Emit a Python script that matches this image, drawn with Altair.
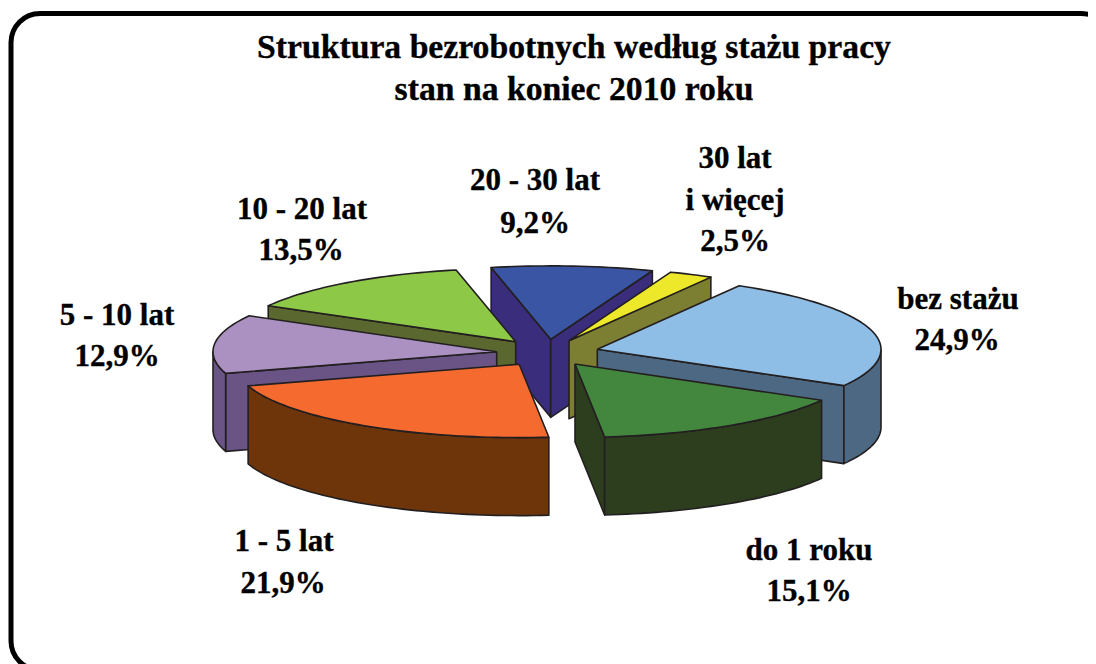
import math
import altair as alt
import pandas as pd

# ---- values ----
categories = ["bez stażu", "do 1 roku", "1 - 5 lat", "5 - 10 lat", "10 - 20 lat", "20 - 30 lat", "30 lat i więcej"]
shares = [24.9, 15.1, 21.9, 12.9, 13.5, 9.2, 2.5]

title_lines = ["Struktura bezrobotnych według stażu pracy", "stan na koniec 2010 roku"]
label_lines = [
    ["bez stażu", "24,9%"],
    ["do 1 roku", "15,1%"],
    ["1 - 5 lat", "21,9%"],
    ["5 - 10 lat", "12,9%"],
    ["10 - 20 lat", "13,5%"],
    ["20 - 30 lat", "9,2%"],
    ["30 lat", "i więcej", "2,5%"],
]

# ---- styling / projection (not data) ----
W, H = 1080, 656
A, B, DEPTH = 283.7, 73.4, 78
START = 30.0
apex = [(597.3, 349.3), (575, 364), (519.2, 364.2), (496.7, 351.7), (515.7, 341.7), (550.7, 339.3), (569, 340.7)]
top_col = ["#8ebde6", "#43873f", "#f46a2f", "#ab91c1", "#8dc847", "#3a55a4", "#eee82a"]
side_col = ["#4d6882", "#2d3e1f", "#6e350b", "#695485", "#5a672e", "#3a2d7c", "#7c7f32"]
draw_order = [5, 6, 4, 3, 0, 2, 1]
label_pos = [
    [(958, 309), (957, 350)],
    [(809, 560), (809, 601)],
    [(284, 551), (283, 593)],
    [(117, 325), (117, 366)],
    [(302, 219), (301, 260)],
    [(535, 190), (535, 233)],
    [(735, 168), (735, 210), (735, 251)],
]
title_pos = [(574, 58), (574, 100)]
LABEL_SIZE = 31
TITLE_SIZE = 33.7


def pt(i, deg, drop=0.0):
    r = math.radians(deg)
    cx, cy = apex[i]
    return cx + A * math.sin(r), cy - B * math.cos(r) + drop


def arc(i, a0, a1, drop=0.0):
    n = max(2, int(abs(a1 - a0) / 1.5) + 1)
    return [pt(i, a0 + (a1 - a0) * k / (n - 1), drop) for k in range(n)]


cum = [START]
for s in shares:
    cum.append(cum[-1] + s * 3.6)

rows = []
poly_id = 0


def add(points, fill):
    global poly_id
    closed = list(points) + [points[0]]
    for seq, (x, y) in enumerate(closed):
        rows.append({"poly": f"p{poly_id:02d}", "seq": seq, "x": x - 8, "y": y - 8, "fill": fill})
    poly_id += 1


for i in draw_order:
    a0, a1 = cum[i], cum[i + 1]
    ax, ay = apex[i]
    # visible cut faces
    if math.sin(math.radians(a0)) < 0:
        p = pt(i, a0)
        add([(ax, ay), p, (p[0], p[1] + DEPTH), (ax, ay + DEPTH)], side_col[i])
    if math.sin(math.radians(a1)) > 0:
        p = pt(i, a1)
        add([(ax, ay), p, (p[0], p[1] + DEPTH), (ax, ay + DEPTH)], side_col[i])
    # visible part of the outer wall (front half of the ellipse)
    lo, hi = max(a0, 90), min(a1, 270)
    if hi > lo:
        add(arc(i, lo, hi) + arc(i, hi, lo, DEPTH), side_col[i])
    # top face
    add([(ax, ay)] + arc(i, a0, a1), top_col[i])

df = pd.DataFrame(rows)

text_rows = []
for lines, pos in zip(label_lines, label_pos):
    for t, (x, y) in zip(lines, pos):
        text_rows.append({"t": t, "x": x - 8, "y": y - 8, "s": LABEL_SIZE})
for t, (x, y) in zip(title_lines, title_pos):
    text_rows.append({"t": t, "x": x - 8, "y": y - 8, "s": TITLE_SIZE})
tf = pd.DataFrame(text_rows)

xs = alt.Scale(domain=[0, W], range=[0, W], nice=False, zero=False)
ys = alt.Scale(domain=[0, H], range=[0, H], nice=False, zero=False)
X = alt.X("x:Q", scale=xs, axis=None)
Y = alt.Y("y:Q", scale=ys, axis=None)

frame = alt.Chart(pd.DataFrame({"x": [3], "x2": [1102], "y": [5.5], "y2": [662]})).mark_rect(
    fill="white", stroke="black", strokeWidth=5, cornerRadius=29, clip=False
).encode(x=X, x2="x2:Q", y=Y, y2="y2:Q")

slices = alt.Chart(df).mark_line(strokeWidth=1.6, stroke="#231f20", strokeJoin="round", interpolate="linear").encode(
    x=X, y=Y, detail="poly:N", order="seq:Q", fill=alt.Fill("fill:N", scale=None)
)

texts = alt.Chart(tf).mark_text(font="Liberation Serif", fontWeight="bold", color="#000000", stroke="#000000", strokeWidth=0.35, align="center", baseline="alphabetic").encode(
    x=X, y=Y, text="t:N", size=alt.Size("s:Q", scale=None, legend=None)
)

chart = alt.layer(frame, slices, texts).properties(
    width=W, height=H, padding=0, autosize=alt.AutoSizeParams(type="none"),
    background="white",
).configure_view(stroke=None)

chart.save("out.html", embed_options={"renderer": "svg", "actions": False})
